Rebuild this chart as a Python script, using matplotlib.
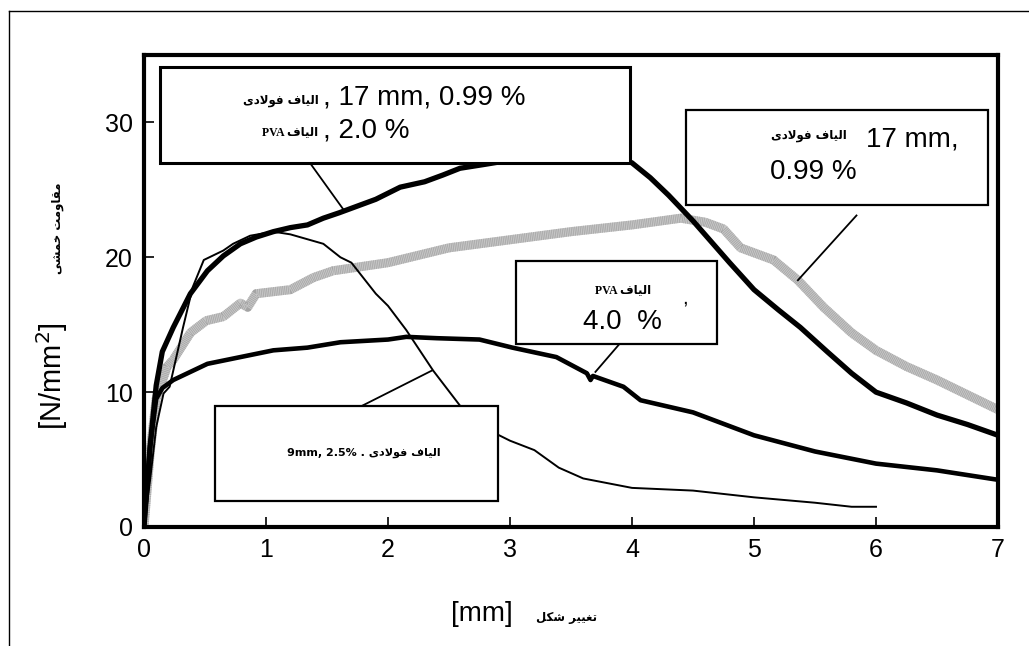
import numpy as np
import matplotlib.pyplot as plt
from matplotlib.patches import Rectangle
from matplotlib.lines import Line2D

# ------------------------------------------------------------
# Data (deformation [mm], stress [N/mm2])
# ------------------------------------------------------------
# steel 17 mm 0.99 % + PVA 2.0 % (thick black)
x_hyb = [0, 0.05, 0.1, 0.15, 0.24, 0.38, 0.52, 0.65, 0.79, 0.92, 1.06, 1.2, 1.34, 1.47,
         1.6, 1.75, 1.9, 2.1, 2.3, 2.45, 2.59, 2.8, 3.0, 3.3, 3.6, 3.85, 4.0, 4.15, 4.3,
         4.5, 4.8, 5.0, 5.2, 5.38, 5.6, 5.8, 6.0, 6.25, 6.5, 6.75, 7.0]
y_hyb = [0, 6.0, 10.5, 13.0, 14.8, 17.3, 19.0, 20.1, 21.0, 21.5, 21.9, 22.2, 22.4, 22.9,
         23.3, 23.8, 24.3, 25.2, 25.6, 26.1, 26.6, 26.9, 27.2, 27.6, 27.9, 27.6, 27.0, 25.9, 24.6,
         22.7, 19.6, 17.6, 16.1, 14.8, 13.0, 11.4, 10.0, 9.2, 8.3, 7.6, 6.8]

# steel 17 mm 0.99 % (grey)
x_st17 = [0, 0.05, 0.1, 0.19, 0.24, 0.38, 0.51, 0.65, 0.79, 0.85, 0.92, 1.2, 1.39, 1.55,
          2.0, 2.5, 3.0, 3.5, 4.0, 4.4, 4.6, 4.75, 4.89, 5.16, 5.36, 5.57, 5.8, 6.0,
          6.25, 6.5, 6.75, 7.0]
y_st17 = [0, 5.5, 9.5, 11.9, 12.4, 14.4, 15.3, 15.6, 16.6, 16.3, 17.3, 17.6, 18.5, 19.0,
          19.6, 20.7, 21.3, 21.9, 22.4, 22.9, 22.6, 22.1, 20.7, 19.8, 18.3, 16.3, 14.4, 13.1,
          11.9, 10.9, 9.8, 8.7]

# PVA 4.0 % (thick black, lower)
x_pva = [0, 0.05, 0.1, 0.15, 0.24, 0.52, 0.79, 1.06, 1.34, 1.61, 2.0, 2.15, 2.4, 2.75,
         3.02, 3.38, 3.63, 3.66, 3.68, 3.93, 4.07, 4.5, 5.0, 5.5, 6.0, 6.5, 7.0]
y_pva = [0, 6.0, 9.5, 10.3, 10.9, 12.1, 12.6, 13.1, 13.3, 13.7, 13.9, 14.1, 14.0, 13.9,
         13.3, 12.6, 11.4, 10.9, 11.2, 10.4, 9.4, 8.5, 6.8, 5.6, 4.7, 4.2, 3.5]

# steel 9 mm 2.5 % (thin black)
x_st9 = [0, 0.05, 0.1, 0.16, 0.21, 0.32, 0.40, 0.49, 0.65, 0.73, 0.87, 1.06, 1.2, 1.47,
         1.61, 1.7, 1.9, 2.0, 2.15, 2.37, 2.59, 2.8, 3.0, 3.2, 3.4, 3.6, 4.0, 4.5, 5.0,
         5.5, 5.8, 6.0]
y_st9 = [0, 3.5, 7.4, 9.9, 10.4, 14.8, 17.8, 19.8, 20.5, 21.0, 21.6, 21.9, 21.7, 21.0,
         20.0, 19.6, 17.3, 16.4, 14.6, 11.6, 9.0, 7.3, 6.4, 5.7, 4.4, 3.6, 2.9, 2.7, 2.2,
         1.8, 1.5, 1.5]

x_ticks = [0, 1, 2, 3, 4, 5, 6, 7]
y_ticks = [0, 10, 20, 30]


# ------------------------------------------------------------
# tiny Arabic/Persian shaper (matplotlib draws glyphs left to right)
# ------------------------------------------------------------
FORMS = {  # isolated, final, initial, medial
    '\u0627': ('\uFE8D', '\uFE8E', None, None),
    '\u062F': ('\uFEA9', '\uFEAA', None, None),
    '\u0631': ('\uFEAD', '\uFEAE', None, None),
    '\u0648': ('\uFEED', '\uFEEE', None, None),
    '\u0644': ('\uFEDD', '\uFEDE', '\uFEDF', '\uFEE0'),
    '\u06CC': ('\uFBFC', '\uFBFD', '\uFBFE', '\uFBFF'),
    '\u0641': ('\uFED1', '\uFED2', '\uFED3', '\uFED4'),
    '\u0642': ('\uFED5', '\uFED6', '\uFED7', '\uFED8'),
    '\u0645': ('\uFEE1', '\uFEE2', '\uFEE3', '\uFEE4'),
    '\u062A': ('\uFE95', '\uFE96', '\uFE97', '\uFE98'),
    '\u062E': ('\uFEA5', '\uFEA6', '\uFEA7', '\uFEA8'),
    '\u0634': ('\uFEB5', '\uFEB6', '\uFEB7', '\uFEB8'),
    '\u06A9': ('\uFB8E', '\uFB8F', '\uFB90', '\uFB91'),
    '\u063A': ('\uFECD', '\uFECE', '\uFECF', '\uFED0'),
}


def shape(word_text):
    out = []
    chars = list(word_text)
    i = 0
    while i < len(chars):
        c = chars[i]
        prev = chars[i - 1] if i > 0 else None
        prev_joins = prev in FORMS and FORMS[prev][2] is not None
        if c not in FORMS:
            out.append(c)
            i += 1
            continue
        # lam-alef ligature
        if c == '\u0644' and i + 1 < len(chars) and chars[i + 1] == '\u0627':
            out.append('\uFEFC' if prev_joins else '\uFEFB')
            i += 2
            continue
        nxt = chars[i + 1] if i + 1 < len(chars) else None
        next_joins = FORMS[c][2] is not None and nxt in FORMS
        f = FORMS[c]
        if prev_joins and next_joins:
            g = f[3]
        elif prev_joins:
            g = f[1]
        elif next_joins:
            g = f[2]
        else:
            g = f[0]
        out.append(g)
        i += 1
    return ''.join(out)[::-1]


def rtl(text):
    return ' '.join(shape(w) for w in text.split(' ')[::-1])


steel = rtl('الیاف فولادی')
fibers = rtl('الیاف')
ylab_fa = rtl('مقاومت خمشی')
xlab_fa = rtl('تغییر شکل')

AR = ['DejaVu Sans']
LAT = ['Liberation Sans', 'DejaVu Sans']
BIG = 20

# ------------------------------------------------------------
fig = plt.figure(figsize=(10.29, 6.46), dpi=100)
ax = fig.add_axes([144 / 1029, 1 - 527 / 646, (998 - 144) / 1029, (527 - 55) / 646])

# grey curve: light band with fine darker stripes
ax.plot(x_st17, y_st17, color='#c6c6c6', lw=6.5, solid_capstyle='butt', zorder=2)
ax.plot(x_st17, y_st17, color='#a4a4a4', lw=6.5, ls=(0, (0.08, 0.12)),
        dash_capstyle='butt', zorder=2)
ax.plot(x_pva, y_pva, color='black', lw=3.3, zorder=3)
ax.plot(x_st9, y_st9, color='black', lw=1.4, zorder=3)
ax.plot(x_hyb, y_hyb, color='black', lw=3.8, zorder=4)

ax.set_xlim(0, 7)
ax.set_ylim(0, 35)
ax.set_xticks(x_ticks)
ax.set_yticks(y_ticks)
ax.tick_params(direction='in', length=7, width=1.2, labelsize=18, pad=8)
for lab in ax.get_xticklabels() + ax.get_yticklabels():
    lab.set_family(LAT)
for s in ax.spines.values():
    s.set_linewidth(3)

# annotation boxes (data coords)
boxes = [(0.131, 27.0, 3.85, 7.1, 2.2),
         (4.44, 23.9, 2.48, 7.0, 1.6),
         (3.05, 13.6, 1.65, 6.1, 1.6),
         (0.58, 1.93, 2.32, 7.07, 1.6)]
for bx, by, bw, bh, lw in boxes:
    ax.add_patch(Rectangle((bx, by), bw, bh, facecolor='white', edgecolor='black',
                           lw=lw, zorder=6))

leaders = [((1.36, 1.63), (27.0, 23.6)),
           ((5.84, 5.36), (23.1, 18.3)),
           ((3.90, 3.70), (13.6, 11.5)),
           ((1.79, 2.36), (9.0, 11.6))]
for lx, ly in leaders:
    ax.add_line(Line2D(lx, ly, color='black', lw=1.3, zorder=5))

# box 1
ax.text(1.43, 31.6, steel, family=AR, fontsize=8.5, fontweight='bold', ha='right',
        va='center', zorder=7)
ax.text(1.47, 31.85, ', 17 mm, 0.99 %', family=LAT, fontsize=BIG, ha='left',
        va='center', zorder=7)
ax.text(1.43, 29.3, 'PVA ' + fibers, family=['Liberation Serif'] + AR, fontsize=8.5,
        fontweight='bold', ha='right', va='center', zorder=7)
ax.text(1.47, 29.4, ', 2.0 %', family=LAT, fontsize=BIG, ha='left', va='center', zorder=7)

# box 2
ax.text(5.76, 29.0, steel, family=AR, fontsize=8.5, fontweight='bold', ha='right',
        va='center', zorder=7)
ax.text(5.92, 28.7, '17 mm,', family=LAT, fontsize=BIG, ha='left', va='center', zorder=7)
ax.text(5.13, 26.3, '0.99 %', family=LAT, fontsize=BIG, ha='left', va='center', zorder=7)

# box 3
ax.text(3.93, 17.55, 'PVA ' + fibers, family=['Liberation Serif'] + AR, fontsize=8.5,
        fontweight='bold', ha='center', va='center', zorder=7)
ax.text(4.41, 17.0, ',', family=LAT, fontsize=15, ha='left', va='center', zorder=7)
ax.text(3.60, 15.2, '4.0  %', family=LAT, fontsize=BIG, ha='left', va='center', zorder=7)

# box 4
ax.text(1.80, 5.5, '9mm, 2.5% . ' + steel, family=AR, fontsize=8, fontweight='bold',
        ha='center', va='center', zorder=7)

# axis labels
fig.text(52 / 1029, 1 - 376 / 646, '[N/mm$^2$]', family=LAT, fontsize=21,
         rotation=90, ha='center', va='center')
fig.text(57 / 1029, 1 - 228 / 646, ylab_fa, family=AR, fontsize=8.5, fontweight='bold',
         rotation=90, ha='center', va='center')
fig.text(482 / 1029, 1 - 614 / 646, '[mm]', family=LAT, fontsize=20,
         ha='center', va='center')
fig.text(566 / 1029, 1 - 617 / 646, xlab_fa, family=AR, fontsize=8.5, fontweight='bold',
         ha='center', va='center')

# outer frame of the original figure
fig.add_artist(Line2D([9 / 1029, 9 / 1029], [0, 1 - 11 / 646], transform=fig.transFigure,
                      color='black', lw=1))
fig.add_artist(Line2D([9 / 1029, 1], [1 - 11 / 646, 1 - 11 / 646], transform=fig.transFigure,
                      color='black', lw=1))

fig.savefig('out.png', dpi=100)
